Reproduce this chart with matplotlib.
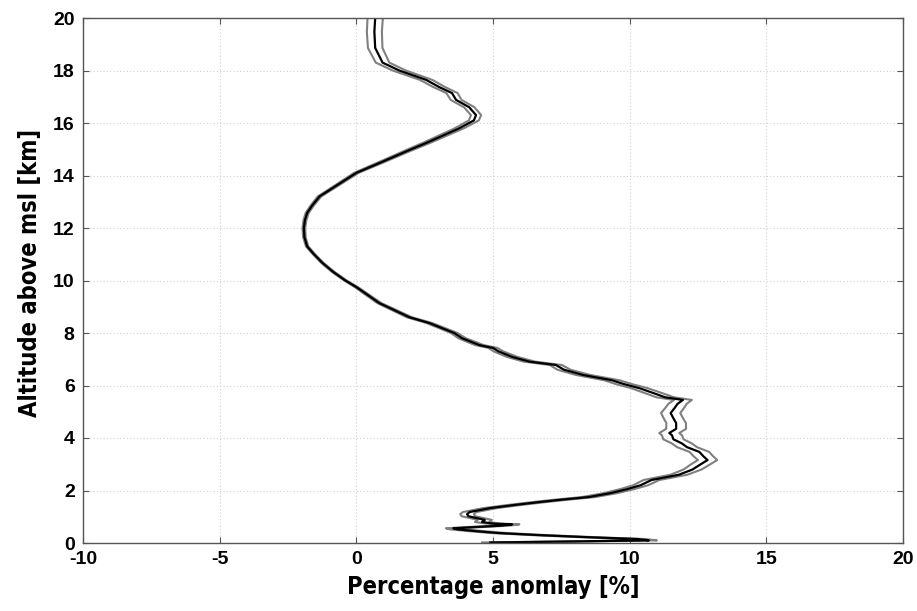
#!/usr/bin/env python3
import numpy as np
import matplotlib
matplotlib.use("Agg")
import matplotlib.pyplot as plt

# Profile: altitude [km] and mean anomaly [%]
altitude = [0.02, 0.06, 0.10, 0.15, 0.22, 0.30, 0.38, 0.45, 0.52, 0.56,
            0.60, 0.66, 0.71, 0.74, 0.80, 0.88, 0.95, 1.02, 1.10, 1.18,
            1.25, 1.33, 1.45, 1.56, 1.65, 1.75, 1.90, 2.05, 2.20, 2.40,
            2.60, 2.80, 3.00, 3.16, 3.30, 3.47, 3.65, 3.80, 3.95, 4.10,
            4.19, 4.35, 4.57, 4.75, 4.95, 5.15, 5.30, 5.45, 5.55, 5.70,
            5.90, 6.05, 6.20, 6.40, 6.60, 6.78, 6.91, 7.09, 7.30, 7.43,
            7.54, 7.80, 8.00, 8.38, 8.60, 9.14, 9.75, 10.00, 10.33, 10.67,
            11.00, 11.30, 11.65, 12.00, 12.30, 12.57, 12.85, 13.20, 13.50, 13.80,
            14.10, 14.50, 14.97, 15.24, 15.80, 16.10, 16.30, 16.60, 16.88, 17.14,
            17.37, 17.64, 18.00, 18.30, 18.86, 19.47, 20.00]
anomaly = [4.9, 8.0, 10.7, 10.3, 8.5, 6.7, 5.2, 4.4, 3.7, 3.55,
           4.2, 5.3, 5.7, 5.0, 4.6, 4.7, 4.4, 4.1, 4.05, 4.15,
           4.5, 4.9, 5.8, 6.7, 7.5, 8.5, 9.3, 9.9, 10.4, 10.8,
           11.8, 12.3, 12.6, 12.85, 12.7, 12.55, 12.1, 11.9, 11.6, 11.55,
           11.45, 11.7, 11.7, 11.6, 11.5, 11.65, 11.75, 11.95, 11.3, 10.9,
           10.35, 9.8, 9.35, 8.3, 7.6, 7.3, 6.33, 5.7, 5.2, 5.0,
           4.5, 3.87, 3.58, 2.67, 1.94, 0.84, 0.0, -0.4, -0.85, -1.24,
           -1.55, -1.8, -1.9, -1.92, -1.88, -1.8, -1.62, -1.35, -0.9, -0.45,
           0.0, 0.9, 1.94, 2.56, 3.77, 4.3, 4.38, 4.13, 3.65, 3.5,
           3.03, 2.56, 1.57, 0.96, 0.69, 0.66, 0.69]

# Half-width of the grey envelope [%] at a few altitudes
spread_alt = [0, 1, 2, 3, 4, 5, 6, 7, 8, 9, 10,
              11, 12, 13, 14, 15, 16, 17, 18, 19, 20]
spread = [0.30, 0.25, 0.25, 0.35, 0.37, 0.35, 0.30, 0.20, 0.12, 0.08, 0.05,
          0.04, 0.05, 0.06, 0.08, 0.12, 0.18, 0.20, 0.24, 0.27, 0.28]

x_ticks = [-10, -5, 0, 5, 10, 15, 20]
y_ticks = [0, 2, 4, 6, 8, 10, 12, 14, 16, 18, 20]

plt.rcParams["axes.unicode_minus"] = False


def plot_profile(save_path):
    fig = plt.figure(figsize=(9.17, 6.11), dpi=100)
    ax = fig.add_axes([83 / 917, 68 / 611, 820 / 917, 525 / 611])

    alt = np.array(altitude)
    mean = np.array(anomaly)
    half = np.interp(alt, spread_alt, spread)

    # grey envelope first, mean profile on top
    ax.plot(mean - half, alt, color="#808080", linewidth=1.5)
    ax.plot(mean + half, alt, color="#808080", linewidth=1.5)
    ax.plot(mean, alt, color="black", linewidth=1.6)

    ax.set_xlim(-10, 20)
    ax.set_ylim(0, 20)
    ax.set_xticks(x_ticks)
    ax.set_yticks(y_ticks)

    for lab in ax.get_xticklabels() + ax.get_yticklabels():
        lab.set_fontfamily("Liberation Sans")
        lab.set_fontweight("bold")
        lab.set_fontsize(14)

    ax.tick_params(direction="in", top=True, right=True, length=4,
                   color="#555555")
    ax.tick_params(axis="x", pad=6)
    ax.tick_params(axis="y", pad=6)
    for s in ax.spines.values():
        s.set_color("#555555")
        s.set_linewidth(1.0)

    # MATLAB-like dotted grid
    ax.grid(True, color="#d0d0d0", linestyle=(0, (1, 2)), linewidth=0.8)
    ax.set_axisbelow(True)

    # condensed bold titles (DejaVu Sans Condensed when present)
    ax.set_xlabel("Percentage anomlay [%]", fontfamily="DejaVu Sans",
                  fontweight="bold", fontstretch="condensed",
                  fontsize=17, labelpad=5)
    ax.set_ylabel("Altitude above msl [km]", fontfamily="DejaVu Sans",
                  fontweight="bold", fontstretch="condensed",
                  fontsize=17)
    ax.yaxis.set_label_coords(-0.05, 0.514)

    fig.savefig(save_path, dpi=100)


if __name__ == "__main__":
    plot_profile("out.png")
